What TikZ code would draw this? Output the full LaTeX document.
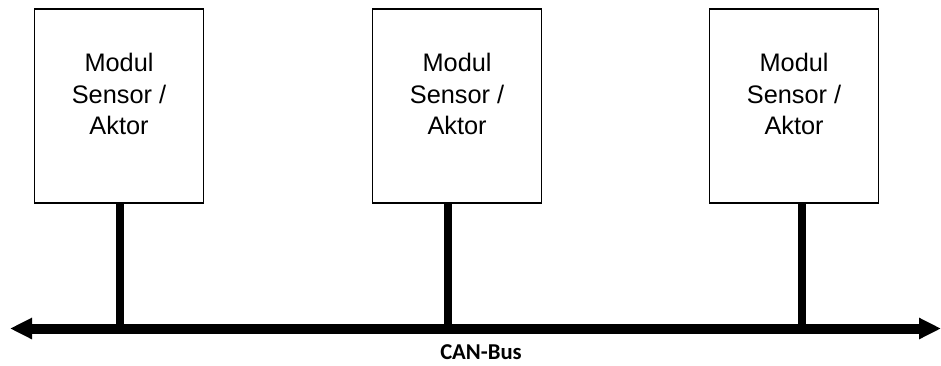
\documentclass[tikz,border=0pt]{standalone}
\usepackage{fontspec}
\setmainfont{Liberation Sans}
\newfontfamily\busfont{Carlito}
\usetikzlibrary{arrows.meta,positioning}

\begin{document}
\begin{tikzpicture}[x=0.75pt, y=-0.75pt, node distance=125.8pt, modul/.style={draw, line width=1pt, minimum width=126.75pt, minimum height=145.5pt, inner sep=0pt}, txt/.style={align=center, font=\fontsize{19}{23.6}\selectfont}, stem/.style={line width=5.6pt}, bus/.style={{Triangle[length=16.5pt,width=15pt]}-{Triangle[length=16.5pt,width=15pt]}, line width=7.5pt}]
\useasboundingbox (0,0) rectangle (941,365);
\node[modul] (m1) at (119,106) {};
\node[modul,right=of m1] (m2) {};
\node[modul,right=125pt of m2] (m3) {};
\node[txt] (t1) at ([yshift=9pt]m1.center) {Modul\\Sensor /\\Aktor};
\node[txt] (t2) at ([yshift=9pt]m2.center) {Modul\\Sensor /\\Aktor};
\node[txt] (t3) at ([yshift=9pt]m3.center) {Modul\\Sensor /\\Aktor};
% bus line with the three taps
\coordinate (busl) at (10,328.5);
\coordinate (busr) at (941,328.5);
\coordinate (j1) at (120,328.5);
\coordinate (j2) at (448,328.5);
\coordinate (j3) at (802,328.5);
\draw[bus] (busl) -- (busr);
\draw[stem] (j1 |- m1.south) -- (j1); \draw[stem] (j2 |- m2.south) -- (j2); \draw[stem] (j3 |- m3.south) -- (j3);
\node[font=\busfont\bfseries\fontsize{17}{20}\selectfont] (can) at (481,352) {CAN-Bus};
\end{tikzpicture}
\end{document}
